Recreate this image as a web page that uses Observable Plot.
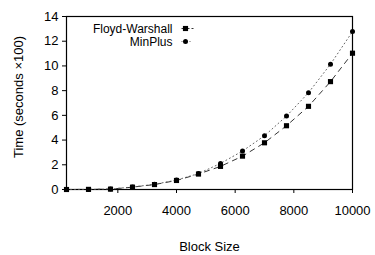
<!DOCTYPE html>
<html>
<head>
<meta charset="utf-8">
<script src="https://cdn.jsdelivr.net/npm/d3@7"></script>
<script src="https://cdn.jsdelivr.net/npm/@observablehq/plot@0.6"></script>
<style>
  body { margin: 0; background: #fff; }
  #chart svg { font-family: "Liberation Sans", Arial, sans-serif; }
</style>
</head>
<body>
<div id="chart"></div>
<script>
const blockSizes = [250, 1000, 1750, 2500, 3250, 4000, 4750, 5500, 6250, 7000, 7750, 8500, 9250, 10000];
const floydWarshall = [0, 0.01, 0.03, 0.19, 0.40, 0.73, 1.25, 1.87, 2.70, 3.78, 5.16, 6.73, 8.73, 11.03];
const minPlus = [0, 0.01, 0.04, 0.20, 0.42, 0.76, 1.29, 2.11, 3.11, 4.35, 5.94, 7.83, 10.14, 12.78];
const seriesNames = ["Floyd-Warshall", "MinPlus"];
const xTicks = [2000, 4000, 6000, 8000, 10000];
const yTicks = [0, 2, 4, 6, 8, 10, 12, 14];
const xLabel = "Block Size";
const yLabel = "Time (seconds \u00d7100)";

const fw = blockSizes.map((x, i) => ({x, y: floydWarshall[i]}));
const mp = blockSizes.map((x, i) => ({x, y: minPlus[i]}));

const lineSym = {draw(ctx) { ctx.moveTo(-4, 0); ctx.lineTo(8, 0); }};

const chart = Plot.plot({
  width: 375,
  height: 255,
  marginLeft: 66,
  marginRight: 23,
  marginTop: 16,
  marginBottom: 66,
  style: {fontSize: "13px", fontFamily: "Liberation Sans, Arial, sans-serif", color: "#000"},
  x: {domain: [250, 10000], ticks: xTicks, tickFormat: d => String(d), tickSize: 4, tickPadding: 12, label: null},
  y: {domain: [0, 14], ticks: yTicks, tickSize: 4, tickPadding: 4, label: null},
  marks: [
    Plot.frame({stroke: "#000", strokeWidth: 1.2}),
    Plot.line(fw, {x: "x", y: "y", stroke: "#000", strokeWidth: 0.8, strokeDasharray: "5,5"}),
    Plot.line(mp, {x: "x", y: "y", stroke: "#555", strokeWidth: 0.9, strokeDasharray: "1,3"}),
    Plot.dot(fw, {x: "x", y: "y", symbol: "square", r: 2.9, fill: "#000", stroke: "none"}),
    Plot.dot(mp, {x: "x", y: "y", symbol: "circle", r: 2.5, fill: "#000", stroke: "none"}),
    // legend
    Plot.text([seriesNames[0]], {frameAnchor: "top-left", dx: 106, dy: 12.5, textAnchor: "end", lineAnchor: "middle", fontSize: 12}),
    Plot.text([seriesNames[1]], {frameAnchor: "top-left", dx: 106, dy: 25.5, textAnchor: "end", lineAnchor: "middle", fontSize: 12}),
    Plot.dot([seriesNames[0]], {frameAnchor: "top-left", dx: 119, dy: 12, symbol: lineSym, r: 4, fill: "none", stroke: "#000", strokeWidth: 0.8, strokeDasharray: "3,2"}),
    Plot.dot([seriesNames[1]], {frameAnchor: "top-left", dx: 119, dy: 25, symbol: lineSym, r: 4, fill: "none", stroke: "#555", strokeWidth: 0.9, strokeDasharray: "1,3"}),
    Plot.dot([seriesNames[0]], {frameAnchor: "top-left", dx: 119, dy: 12, symbol: "square", r: 2.9, fill: "#000", stroke: "none"}),
    Plot.dot([seriesNames[1]], {frameAnchor: "top-left", dx: 119, dy: 25, symbol: "circle", r: 2.5, fill: "#000", stroke: "none"}),
    // axis titles
    Plot.text([xLabel], {frameAnchor: "bottom", dy: 61, fontSize: 13}),
    Plot.text([yLabel], {frameAnchor: "left", dx: -48, dy: -6, rotate: -90, textAnchor: "middle", fontSize: 13})
  ]
});
document.getElementById("chart").appendChild(chart);
</script>
</body>
</html>
